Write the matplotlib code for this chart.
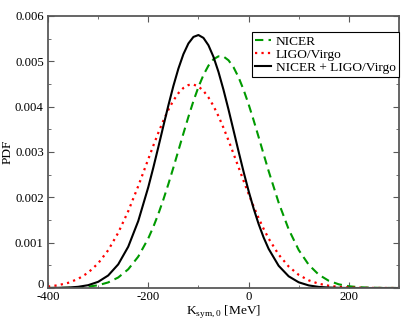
import matplotlib
matplotlib.use("Agg")
import matplotlib.pyplot as plt
import matplotlib.transforms as mtransforms
from matplotlib.ticker import MultipleLocator, FixedLocator, FixedFormatter

# K_sym,0 grid [MeV] and PDF values (finer near the peaks)
ksym = [-400, -380, -360, -340, -320, -300, -280, -260, -240, -220,
        -200, -190, -180, -170, -160, -150, -140, -130, -120, -110,
        -100, -90, -80, -70, -60, -50, -40, -30, -20, -10,
        0, 10, 20, 30, 40,
        60, 80, 100, 120, 140, 160, 180, 200, 220, 240, 260, 280, 300]

pdf_nicer = [0.0, 0.000002, 0.000005, 0.000013, 0.000029, 0.000061, 0.000123, 0.000232, 0.000413, 0.000693,
             0.001095, 0.001347, 0.001632, 0.001948, 0.002291, 0.002654, 0.003030, 0.003407, 0.003775, 0.004122,
             0.004433, 0.004698, 0.004905, 0.005046, 0.005110, 0.005106, 0.005023, 0.004869, 0.004649, 0.004374,
             0.004055, 0.003703, 0.003332, 0.002954, 0.002580,
             0.001883, 0.001294, 0.000838, 0.000512, 0.000294, 0.000159, 0.000081, 0.000039, 0.000018,
             0.000008, 0.000003, 0.000001, 0.0]

pdf_ligo = [0.000031, 0.000061, 0.000113, 0.000200, 0.000338, 0.000544, 0.000833, 0.001218, 0.001695, 0.002249,
            0.002843, 0.003139, 0.003424, 0.003690, 0.003929, 0.004134, 0.004297, 0.004412, 0.004477, 0.004488,
            0.004445, 0.004349, 0.004204, 0.004016, 0.003790, 0.003533, 0.003255, 0.002962, 0.002664, 0.002366,
            0.002077, 0.001801, 0.001543, 0.001306, 0.001092,
            0.000737, 0.000474, 0.000290, 0.000169, 0.000094, 0.000050, 0.000025, 0.000012, 0.000006,
            0.000002, 0.000001, 0.0, 0.0]

pdf_comb = [0.000001, 0.000004, 0.000010, 0.000026, 0.000062, 0.000136, 0.000276, 0.000521, 0.000911, 0.001478,
            0.002225, 0.002654, 0.003107, 0.003570, 0.004025, 0.004455, 0.004838, 0.005157, 0.005394, 0.005538,
            0.005580, 0.005517, 0.005354, 0.005099, 0.004766, 0.004371, 0.003936, 0.003477, 0.003015, 0.002566,
            0.002143, 0.001756, 0.001413, 0.001115, 0.000864,
            0.000490, 0.000258, 0.000126, 0.000057, 0.000024, 0.000010, 0.000004, 0.0, 0.0,
            0.0, 0.0, 0.0, 0.0]

labels = ["NICER", "LIGO/Virgo", "NICER + LIGO/Virgo"]
xticks = [-400, -200, 0, 200]
xticklabels = ["-400", "-200", "0", "200"]
yticks = [0, 0.001, 0.002, 0.003, 0.004, 0.005, 0.006]
yticklabels = ["0", "0.001", "0.002", "0.003", "0.004", "0.005", "0.006"]

plt.rcParams['font.family'] = ['Liberation Serif', 'DejaVu Serif']
plt.rcParams['axes.unicode_minus'] = False

fig = plt.figure(figsize=(4.15, 3.21), dpi=100)
ax = fig.add_axes([0.1157, 0.1028, 0.8457, 0.8474])

# curves
ax.plot(ksym, pdf_nicer, color='#009a00', lw=1.5, linestyle=(0, (4, 2.5)), label=labels[0])
ax.plot(ksym, pdf_ligo, color='#ff0000', lw=1.6, linestyle=(0, (1, 1.9)), label=labels[1])
ax.plot(ksym, pdf_comb, color='black', lw=1.5, label=labels[2])

# axes
ax.set_xlim(-400, 300)
ax.set_ylim(0, 0.006)
ax.xaxis.set_major_locator(FixedLocator(xticks))
ax.xaxis.set_major_formatter(FixedFormatter(xticklabels))
ax.xaxis.set_minor_locator(MultipleLocator(100))
ax.yaxis.set_major_locator(FixedLocator(yticks))
ax.yaxis.set_major_formatter(FixedFormatter(yticklabels))
ax.yaxis.set_minor_locator(MultipleLocator(0.0005))
ax.tick_params(which='both', direction='in', top=True, right=True,
               labelsize=9.2, color='0.35')
ax.tick_params(axis='x', pad=2.5)
ax.tick_params(axis='y', pad=3)
ax.tick_params(which='major', length=4)
ax.tick_params(which='minor', length=2.2)
for s in ax.spines.values():
    s.set_color('0.35')
    s.set_linewidth(1.3)

# nudge the "0" y label up a little so it doesn't sit on "-400"
fig.canvas.draw()
lab0 = ax.get_yticklabels()[0]
lab0.set_transform(lab0.get_transform() + mtransforms.ScaledTranslation(0, 3 / 72, fig.dpi_scale_trans))

ax.set_xlabel(r'K$_{\mathregular{sym,0}}$ [MeV]', fontsize=9.6, labelpad=-0.5)
ax.set_ylabel('PDF', fontsize=9.6, labelpad=1)

leg = ax.legend(loc='upper right', bbox_to_anchor=(1.0, 0.941), borderaxespad=0,
                fontsize=9.6, fancybox=False, framealpha=1, edgecolor='black',
                handlelength=1.2, handletextpad=0.35, labelspacing=0.05,
                borderpad=0.25)
leg.get_frame().set_linewidth(0.8)

fig.savefig('out.png', dpi=100)
